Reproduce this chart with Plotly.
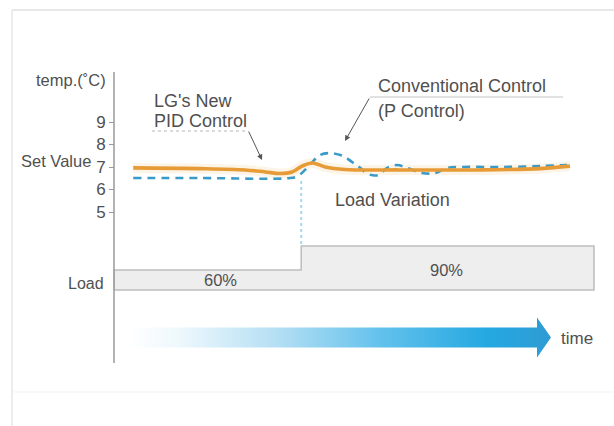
import plotly.graph_objects as go

# ---------------- data ----------------
time_pid = [4.0, 17.9, 27.3, 31.5, 34.6, 37.1, 39.2, 41.3, 44.0, 48.1, 59.6, 76.3, 88.8, 95.0]
temp_pid = [6.96, 6.93, 6.87, 6.78, 6.71, 6.78, 7.04, 7.18, 7.00, 6.89, 6.87, 6.87, 6.93, 7.04]

time_p = [4.0, 17.9, 36.7, 38.3, 39.8, 41.3, 42.9, 45.0, 47.7, 49.6, 51.3, 52.9, 55.0,
          56.9, 59.0, 61.0, 64.2, 66.9, 69.4, 72.7, 80.4, 88.8, 94.4]
temp_p = [6.51, 6.51, 6.51, 6.60, 6.87, 7.22, 7.53, 7.62, 7.49, 7.22, 6.96, 6.69, 6.64,
          6.96, 7.09, 6.96, 6.73, 6.73, 6.96, 7.00, 7.00, 7.04, 7.09]

load_bounds = [0, 39, 100]      # time at which each load level starts / ends
load_levels = [60, 90]          # %
temp_ticks = [5, 6, 7, 8, 9]

# ---------------- layout helpers ----------------
W, H = 614, 426
def px(x): return x / W
def py(y): return 1 - y / H

AX_X = 114          # pixel position of the vertical axis
PX_PER_T = 4.8      # pixels per time unit
X_LEFT, X_RIGHT = 108, 602
x_range = [(X_LEFT - AX_X) / PX_PER_T, (X_RIGHT - AX_X) / PX_PER_T]

# temperature axis: 7 at y=167px, 22.5 px per degree
T_TOP, T_BOT = 60, 240
t_range = [7 - (T_BOT - 167) / 22.5, 7 + (167 - T_TOP) / 22.5]
# load axis: 60% at 270px, 90% at 246px
L_TOP, L_BOT = 236, 300
l_range = [60 - (L_BOT - 270) / 0.8, 90 + (246 - L_TOP) / 0.8]
LOAD_BASE = 60 - (290 - 270) / 0.8

TXT = "#505050"
FONT = "Liberation Sans, Arial, sans-serif"
ORANGE = "#e79b36"
BLUE = "#3a9bc8"

fig = go.Figure()

# load blocks
lx = [load_bounds[0], load_bounds[0], load_bounds[1], load_bounds[1], load_bounds[2], load_bounds[2], load_bounds[0]]
ly = [LOAD_BASE, load_levels[0], load_levels[0], load_levels[1], load_levels[1], LOAD_BASE, LOAD_BASE]
fig.add_trace(go.Scatter(x=lx, y=ly, xaxis="x2", yaxis="y2", mode="lines", fill="toself",
                         fillcolor="#eeeeee", line=dict(color="#bdbdbd", width=1.5),
                         hoverinfo="skip", showlegend=False))

# time arrow (gradient)
A0 = (128 - AX_X) / PX_PER_T
A1 = (537 - AX_X) / PX_PER_T
A2 = (551 - AX_X) / PX_PER_T
bh, hh = 0.364, 0.727
fig.add_trace(go.Scatter(
    x=[A0, A1, A1, A2, A1, A1, A0, A0],
    y=[bh, bh, hh, 0, -hh, -bh, -bh, bh],
    xaxis="x3", yaxis="y3", mode="lines", fill="toself",
    line=dict(width=0, color="rgba(0,0,0,0)"),
    fillgradient=dict(type="horizontal",
                      colorscale=[[0, "rgba(255,255,255,1)"], [0.12, "#eef8fd"],
                                  [0.35, "#b5dff4"], [0.6, "#62c1ec"],
                                  [0.85, "#24a8e1"], [1, "#2f9bd3"]]),
    hoverinfo="skip", showlegend=False))

# orange glow + line (PID)
fig.add_trace(go.Scatter(x=time_pid, y=temp_pid, mode="lines",
                         line=dict(color="rgba(242,178,90,0.14)", width=10, shape="spline"),
                         hoverinfo="skip", showlegend=False))
fig.add_trace(go.Scatter(x=time_p, y=temp_p, mode="lines",
                         line=dict(color=BLUE, width=2.6, dash="8px,6px", shape="spline"),
                         hoverinfo="skip", showlegend=False))
fig.add_trace(go.Scatter(x=time_pid, y=temp_pid, mode="lines",
                         line=dict(color=ORANGE, width=3.6, shape="spline"),
                         hoverinfo="skip", showlegend=False))

shapes = [
    # frame
    dict(type="line", xref="paper", yref="paper", x0=px(12), x1=1, y0=py(10), y1=py(10),
         line=dict(color="#e8e8e8", width=2)),
    dict(type="line", xref="paper", yref="paper", x0=px(12), x1=px(12), y0=py(10), y1=0,
         line=dict(color="#ececec", width=2)),
    dict(type="line", xref="paper", yref="paper", x0=px(12), x1=1, y0=py(392), y1=py(392),
         line=dict(color="#f3f3f3", width=1)),
    # main vertical axis
    dict(type="line", xref="paper", yref="paper", x0=px(AX_X), x1=px(AX_X), y0=py(72), y1=py(363),
         line=dict(color="#9a9a9a", width=1.5)),
    # load variation dotted line
    dict(type="line", xref="x", yref="paper", x0=load_bounds[1], x1=load_bounds[1],
         y0=py(181), y1=py(246), line=dict(color="#a9d7ee", width=2, dash="dot")),
    # callout underlines
    dict(type="line", xref="paper", yref="paper", x0=px(152), x1=px(248), y0=py(131), y1=py(131),
         line=dict(color="#b5b5b5", width=1.2, dash="dot")),
    dict(type="line", xref="paper", yref="paper", x0=px(370), x1=px(563), y0=py(97), y1=py(97),
         line=dict(color="#c4c4c4", width=1)),
]

def txt(x, y, s, size=17, xanchor="left"):
    return dict(xref="paper", yref="paper", x=px(x), y=py(y), text=s, showarrow=False,
                xanchor=xanchor, yanchor="middle", font=dict(family=FONT, size=size, color=TXT))

annotations = [
    txt(71, 80, "temp.(˚C)", 16.5, "center"),
    txt(56, 161, "Set Value", 16.5, "center"),
    txt(152, 101, "LG's New", 18),
    txt(152, 121, "PID Control", 18),
    txt(376, 86, "Conventional Control", 18),
    txt(376, 111, "(P Control)", 18),
    txt(393, 200, "Load Variation", 18, "center"),
    txt(86, 283, "Load", 16, "center"),
    txt(220, 280, f"{load_levels[0]}%", 16.5, "center"),
    txt(446, 270, f"{load_levels[1]}%", 16.5, "center"),
    txt(577, 338, "time", 17, "center"),
    # leader arrows
    dict(xref="paper", yref="paper", x=px(262), y=py(160), ax=248 - 262, ay=130 - 160, text="",
         showarrow=True, arrowhead=2, arrowsize=1.1, arrowwidth=1, arrowcolor="#555"),
    dict(xref="paper", yref="paper", x=px(345), y=py(141), ax=370 - 345, ay=97 - 141, text="",
         showarrow=True, arrowhead=2, arrowsize=1.1, arrowwidth=1, arrowcolor="#555"),
]

fig.update_layout(
    width=W, height=H, margin=dict(l=0, r=0, t=0, b=0),
    paper_bgcolor="white", plot_bgcolor="rgba(0,0,0,0)",
    showlegend=False, hovermode=False,
    xaxis=dict(domain=[px(X_LEFT), px(X_RIGHT)], range=x_range, visible=False, anchor="y"),
    yaxis=dict(domain=[py(T_BOT), py(T_TOP)], range=t_range, anchor="free", position=px(AX_X),
               tickvals=temp_ticks, ticks="outside", ticklen=5, tickcolor="#9a9a9a",
               tickwidth=1, showgrid=False, zeroline=False, showline=False,
               tickfont=dict(family=FONT, size=17, color=TXT)),
    xaxis2=dict(domain=[px(X_LEFT), px(X_RIGHT)], range=x_range, visible=False, anchor="y2"),
    yaxis2=dict(domain=[py(L_BOT), py(L_TOP)], range=l_range, visible=False, anchor="x2"),
    xaxis3=dict(domain=[px(X_LEFT), px(X_RIGHT)], range=x_range, visible=False, anchor="y3"),
    yaxis3=dict(domain=[py(365), py(310)], range=[-1, 1], visible=False, anchor="x3"),
    shapes=shapes, annotations=annotations,
)

fig.write_html("out.html", config={"displayModeBar": False, "staticPlot": True},
               post_script="document.body.style.margin='0';document.body.style.overflow='hidden';")
